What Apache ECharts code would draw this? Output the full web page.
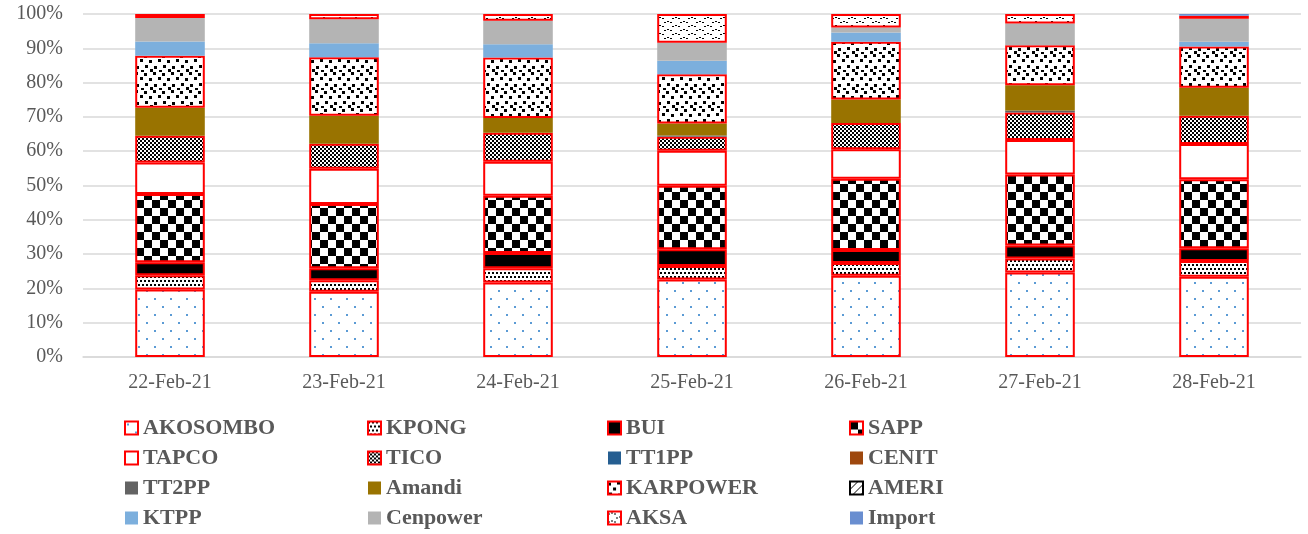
<!DOCTYPE html>
<html>
<head>
<meta charset="utf-8">
<script src="https://cdn.jsdelivr.net/npm/echarts@6/dist/echarts.min.js"></script>
<style>
  html, body { margin: 0; padding: 0; background: #fff; }
  #chart { width: 1308px; height: 534px; }
</style>
</head>
<body>
<div id="chart"></div>
<script>
// ---- Data (percent share per day) ----
const categories = ['22-Feb-21', '23-Feb-21', '24-Feb-21', '25-Feb-21', '26-Feb-21', '27-Feb-21', '28-Feb-21'];
const yTickLabels = ['0%', '10%', '20%', '30%', '40%', '50%', '60%', '70%', '80%', '90%', '100%'];

const AKOSOMBO = [19.7, 19.0, 21.7, 22.6, 23.7, 24.6, 23.4];
const KPONG    = [4.1, 3.4, 4.2, 3.9, 3.7, 4.1, 4.6];
const BUI      = [3.8, 3.5, 4.4, 4.9, 3.8, 3.8, 3.7];
const SAPP     = [19.9, 18.7, 16.7, 18.5, 20.8, 20.7, 20.1];
const TAPCO    = [9.2, 10.3, 9.9, 10.2, 8.6, 10.1, 10.3];
const TICO     = [7.8, 7.3, 8.5, 4.1, 7.6, 8.0, 8.2];
const TT1PP    = [0, 0, 0, 0, 0, 0, 0];
const CENIT    = [0, 0, 0, 0, 0, 0, 0];
const TT2PP    = [0, 0, 0, 0.4, 0, 0.6, 0];
const Amandi   = [8.2, 8.1, 4.3, 3.5, 6.9, 7.3, 8.2];
const KARPOWER = [15.1, 17.1, 17.6, 14.3, 16.8, 11.7, 12.0];
const AMERI    = [0, 0, 0, 0, 0, 0, 0];
const KTPP     = [4.2, 4.1, 3.9, 4.0, 2.7, 0, 1.4];
const Cenpower = [6.8, 7.0, 6.8, 5.2, 1.5, 6.3, 6.7];
const AKSA     = [1.2, 1.5, 2.0, 8.4, 3.9, 2.8, 0.9];
const Import   = [0, 0, 0, 0, 0, 0, 0.5];

// ---- Pattern helpers ----
function tile(w, h, draw) {
  const c = document.createElement('canvas');
  c.width = w; c.height = h;
  const g = c.getContext('2d');
  g.fillStyle = '#ffffff';
  g.fillRect(0, 0, w, h);
  draw(g);
  return { image: c, repeat: 'repeat' };
}
const pat = {
  AKOSOMBO: tile(16, 16, g => { g.fillStyle = '#5b9bd5'; g.fillRect(2, 2, 2, 2); g.fillRect(10, 10, 2, 2); }),
  KPONG: tile(8, 8, g => { g.fillStyle = '#000'; g.fillRect(0, 0, 2, 2); g.fillRect(4, 0, 2, 2); g.fillRect(2, 4, 2, 2); g.fillRect(6, 4, 2, 2); }),
  SAPP: tile(16, 16, g => { g.fillStyle = '#000'; g.fillRect(0, 0, 8, 8); g.fillRect(8, 8, 8, 8); }),
  TAPCO: tile(4, 4, g => {}),
  TICO: tile(4, 4, g => { g.fillStyle = '#000'; g.fillRect(0, 0, 2, 2); g.fillRect(2, 2, 2, 2); }),
  KARPOWER: tile(18, 18, g => {
    g.fillStyle = '#000';
    [[0,1],[9,0],[5,6],[14,5],[1,11],[10,12],[6,15],[15,16]].forEach(p => g.fillRect(p[0], p[1], 3, 3));
  }),
  AMERI: tile(8, 8, g => { g.fillStyle = '#000'; for (let i = 0; i < 8; i++) g.fillRect(i, 7 - i, 1, 1); }),
  AKSA: tile(16, 8, g => {
    g.fillStyle = '#000';
    g.fillRect(0, 2, 2, 1); g.fillRect(3, 1, 2, 1); g.fillRect(6, 2, 2, 1);
    g.fillRect(8, 6, 2, 1); g.fillRect(11, 5, 2, 1); g.fillRect(14, 6, 2, 1);
  })
};

const seriesDefs = [
  ['AKOSOMBO', AKOSOMBO, pat.AKOSOMBO, '#ff0000'],
  ['KPONG', KPONG, pat.KPONG, '#ff0000'],
  ['BUI', BUI, '#000000', '#ff0000'],
  ['SAPP', SAPP, pat.SAPP, '#ff0000'],
  ['TAPCO', TAPCO, pat.TAPCO, '#ff0000'],
  ['TICO', TICO, pat.TICO, '#ff0000'],
  ['TT1PP', TT1PP, '#255e91', null],
  ['CENIT', CENIT, '#9e480e', null],
  ['TT2PP', TT2PP, '#636363', null],
  ['Amandi', Amandi, '#997300', null],
  ['KARPOWER', KARPOWER, pat.KARPOWER, '#ff0000'],
  ['AMERI', AMERI, pat.AMERI, '#000000'],
  ['KTPP', KTPP, '#7cafdd', null],
  ['Cenpower', Cenpower, '#b4b4b4', null],
  ['AKSA', AKSA, pat.AKSA, '#ff0000'],
  ['Import', Import, '#698ed0', null]
];

const series = seriesDefs.map(([name, vals, color, border]) => ({
  name: name,
  type: 'bar',
  stack: 'total',
  barWidth: '40%',
  data: vals.map(v => (v === 0 ? '-' : v)),
  itemStyle: {
    color: color,
    borderColor: border || color,
    borderWidth: border ? 2 : 0
  },
  emphasis: { disabled: true }
}));

const legendCols = [
  ['AKOSOMBO', 'TAPCO', 'TT2PP', 'KTPP'],
  ['KPONG', 'TICO', 'Amandi', 'Cenpower'],
  ['BUI', 'TT1PP', 'KARPOWER', 'AKSA'],
  ['SAPP', 'CENIT', 'AMERI', 'Import']
];
const legendLeft = [124, 367, 607, 849];
const legends = legendCols.map((names, i) => ({
  data: names,
  orient: 'vertical',
  left: legendLeft[i],
  top: 417,
  icon: 'rect',
  itemWidth: 13,
  itemHeight: 13,
  itemGap: 8,
  padding: 0,
  selectedMode: false,
  textStyle: { fontFamily: 'Liberation Serif', fontWeight: 'bold', fontSize: 22, color: '#595959', lineHeight: 22 }
}));

const chart = echarts.init(document.getElementById('chart'), null, { renderer: 'canvas' });
chart.setOption({
  animation: false,
  backgroundColor: '#ffffff',
  grid: { left: 83, right: 7, top: 14, bottom: 177, containLabel: false },
  legend: legends,
  xAxis: {
    type: 'category',
    data: categories,
    axisLine: { show: true, lineStyle: { color: '#d9d9d9', width: 1.5 } },
    axisTick: { show: false },
    axisLabel: { fontFamily: 'Liberation Serif', fontSize: 20, color: '#595959', margin: 16 }
  },
  yAxis: {
    type: 'value',
    min: 0,
    max: 100,
    interval: 10,
    axisLine: { show: false },
    axisTick: { show: false },
    splitLine: { lineStyle: { color: '#d9d9d9', width: 1.5 } },
    axisLabel: {
      fontFamily: 'Liberation Serif', fontSize: 20, color: '#595959', margin: 20,
      formatter: v => yTickLabels[Math.round(v / 10)]
    }
  },
  series: series
});
</script>
</body>
</html>
